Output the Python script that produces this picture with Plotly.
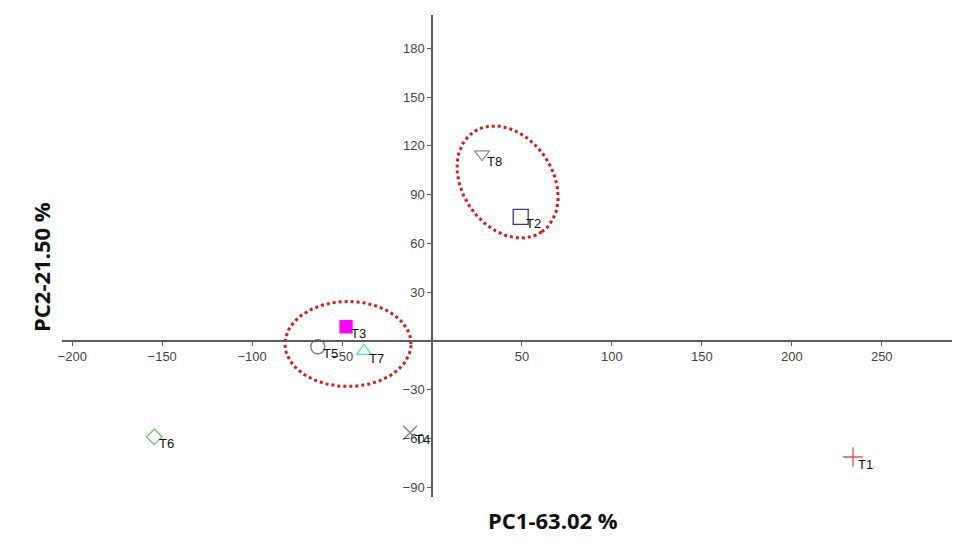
import numpy as np
import plotly.graph_objects as go

# ---- data ----
labels = ["T1", "T2", "T3", "T4", "T5", "T6", "T7", "T8"]
pc1 = [234.0, 49.3, -47.8, -12.2, -63.5, -154.4, -37.8, 27.8]
pc2 = [-71.3, 76.3, 8.8, -56.4, -3.5, -58.9, -6.2, 115.0]
symbols = ["cross-thin-open", "square-open", "square", "x-thin-open",
           "circle-open", "diamond-open", "triangle-up-open", "triangle-down-open"]
colors = ["#e8504f", "#3a3a8c", "#ff00ff", "#5f9a5f",
          "#8a6aa8", "#66cc66", "#49dccb", "#8a8a8a"]
sizes = [14, 15, 12, 14, 14, 12, 13, 13]

x_ticks = [-200, -150, -100, -50, 50, 100, 150, 200, 250]
y_ticks = [-90, -60, -30, 30, 60, 90, 120, 150, 180]

x_range = [-205.7, 293.5]
y_range = [-95.9, 200.5]

# page body has an 8px margin -> figure is drawn offset by 8px
OFF = 8
W, H = 960 - OFF, 545 - OFF
ml, mr, mt, mb = 62 - OFF, 0, 15 - OFF, 48
pw, ph = W - ml - mr, H - mt - mb
px_x = pw / (x_range[1] - x_range[0])
px_y = ph / (y_range[1] - y_range[0])

fig = go.Figure()

# ellipses (center in data, semi-axes in px, angle in deg in data orientation)
def ellipse(cx, cy, a_px, b_px, ang_deg):
    t = np.linspace(0, 2 * np.pi, 220)
    ang = np.deg2rad(ang_deg)
    dx = a_px * np.cos(t) * np.cos(ang) - b_px * np.sin(t) * np.sin(ang)
    dy = a_px * np.cos(t) * np.sin(ang) + b_px * np.sin(t) * np.cos(ang)
    return cx + dx / px_x, cy + dy / px_y

ell_style = dict(color="#e01818", width=3, dash="3px,3px")
ex, ey = ellipse(-46.7, -1.8, 63, 42.5, 0)
fig.add_trace(go.Scatter(x=ex, y=ey, mode="lines", hoverinfo="skip", line=ell_style))
ex, ey = ellipse(42.0, 97.8, 60.5, 45.1, -55.5)
fig.add_trace(go.Scatter(x=ex, y=ey, mode="lines", hoverinfo="skip", line=ell_style))

for i, lab in enumerate(labels):
    fig.add_trace(go.Scatter(
        x=[pc1[i]], y=[pc2[i]], mode="markers", name=lab,
        marker=dict(symbol=symbols[i], size=sizes[i],
                    color=colors[i],
                    line=dict(color=colors[i], width=1.3))))
    fig.add_annotation(x=pc1[i], y=pc2[i], text=lab, showarrow=False,
                       xanchor="left", yanchor="middle", xshift=3, yshift=-7,
                       font=dict(family="Liberation Sans, Arial", size=13, color="#111"))

ax_common = dict(showgrid=False, zeroline=False, showline=True, linecolor="#5e5e5e",
                 linewidth=1.5, ticks="outside", ticklen=4, tickwidth=1,
                 tickcolor="#5e5e5e",
                 tickfont=dict(family="Liberation Sans, Arial", size=13, color="#444"))

fig.update_layout(
    width=W, height=H, showlegend=False,
    paper_bgcolor="white", plot_bgcolor="white",
    margin=dict(l=ml, r=mr, t=mt, b=mb),
    xaxis=dict(range=x_range, tickvals=x_ticks, anchor="free",
               position=(0 - y_range[0]) / (y_range[1] - y_range[0]), **ax_common),
    yaxis=dict(range=y_range, tickvals=y_ticks, anchor="free",
               position=(0 - x_range[0]) / (x_range[1] - x_range[0]), **ax_common),
)

# axis titles (window pixel positions converted to paper fractions)
def paper(xw, yw):
    return (xw - OFF - ml) / pw, 1 - (yw - OFF - mt) / ph

px1, py1 = paper(553, 537)
fig.add_annotation(xref="paper", yref="paper", x=px1, y=py1,
                   text="<b>PC1-63.02 %</b>", showarrow=False,
                   font=dict(family="Open Sans, Liberation Sans", size=22, color="#111"))
px2, py2 = paper(24, 267)
fig.add_annotation(xref="paper", yref="paper", x=px2, y=py2,
                   text="<b>PC2-21.50 %</b>", showarrow=False, textangle=-90,
                   font=dict(family="Open Sans, Liberation Sans", size=22, color="#111"))

fig.write_html("out.html")
